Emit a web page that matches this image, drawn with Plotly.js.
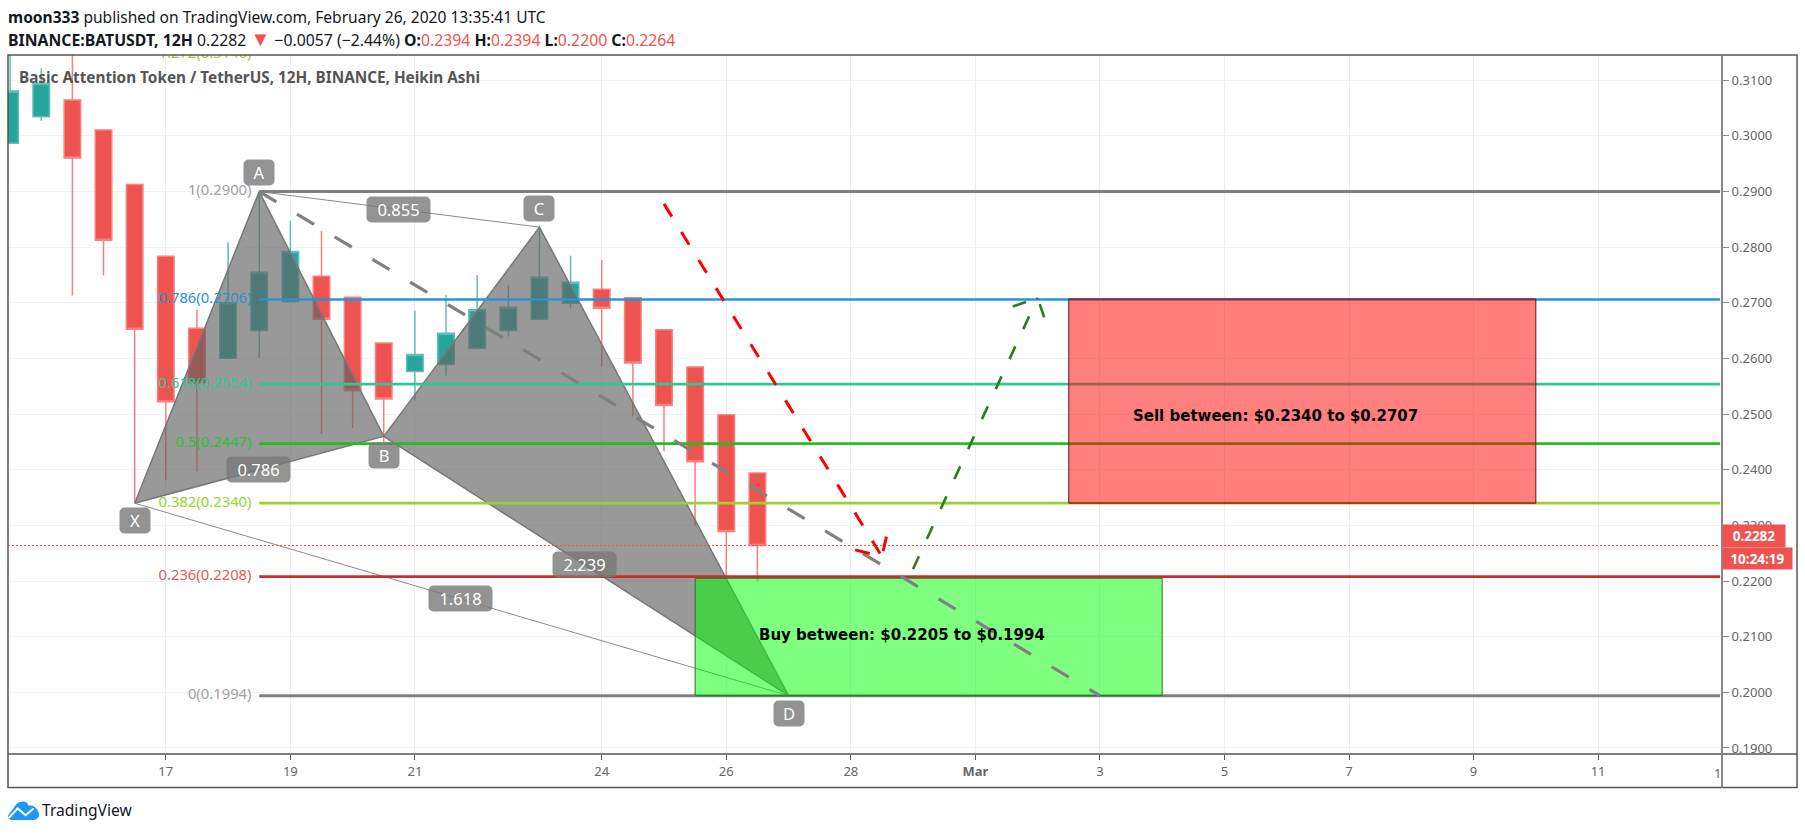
<!DOCTYPE html>
<html>
<head>
<meta charset="utf-8">
<script src="https://cdn.plot.ly/plotly-3.0.1.min.js"></script>
<style>html,body{margin:0;padding:0;background:#fff;overflow:hidden}#chart{width:1805px;height:834px}</style>
</head>
<body>
<div id="chart"></div>
<script>
// ---------- candles (Heikin Ashi, 12H) ----------
const dates = ['2020-02-14 12:00','2020-02-15 00:00','2020-02-15 12:00','2020-02-16 00:00','2020-02-16 12:00','2020-02-17 00:00','2020-02-17 12:00','2020-02-18 00:00','2020-02-18 12:00','2020-02-19 00:00','2020-02-19 12:00','2020-02-20 00:00','2020-02-20 12:00','2020-02-21 00:00','2020-02-21 12:00','2020-02-22 00:00','2020-02-22 12:00','2020-02-23 00:00','2020-02-23 12:00','2020-02-24 00:00','2020-02-24 12:00','2020-02-25 00:00','2020-02-25 12:00','2020-02-26 00:00','2020-02-26 12:00'];
const opens  = [.29868,.30346,.30646,.30107,.29125,.27838,.26545,.26006,.26502,.27023,.27479,.27102,.26276,.25766,.25891,.26186,.26502,.26707,.26994,.27246,.27090,.26515,.25845,.24988,.2394];
const highs  = [.31700,.31216,.31800,.30107,.29125,.27838,.26874,.28090,.29000,.28473,.28293,.27102,.26276,.26856,.27143,.27502,.27323,.28360,.27844,.27772,.27090,.26515,.25845,.24988,.2394];
const lows   = [.29868,.30274,.27131,.27490,.23412,.23807,.23969,.25990,.26006,.27000,.24641,.24749,.24480,.25245,.25694,.26168,.26394,.26707,.26904,.25855,.24957,.24333,.23000,.22060,.2200];
const closes = [.30808,.30946,.29604,.28126,.26527,.25221,.25562,.27000,.27551,.27921,.26707,.25424,.25270,.26071,.26455,.26874,.26922,.27461,.27371,.26904,.25917,.25155,.24144,.22891,.2264];

// ---------- XABCD harmonic pattern ----------
const patternDates = {X:'2020-02-16 12:00',A:'2020-02-18 12:00',B:'2020-02-20 12:00',C:'2020-02-23 00:00',D:'2020-02-27 00:00'};
const patternVals  = {X:.2340,A:.2900,B:.2460,C:.2836,D:.1994};
const pointLabels  = ['A','B','C','D','X','0.855','0.786','2.239','1.618'];
const pointLabelX  = ['2020-02-18 12:00','2020-02-20 12:00','2020-02-23 00:00','2020-02-27 00:00','2020-02-16 12:00','2020-02-20 17:30','2020-02-18 11:45','2020-02-23 17:30','2020-02-21 17:45'];
const pointLabelY  = [.2934,.24257,.28688,.19617,.23084,.28683,.24012,.22293,.21682];

// ---------- Fibonacci levels ----------
const fibRatios = ['1.272','1','0.786','0.618','0.5','0.382','0.236','0'];
const fibValues = [.3146,.2900,.2706,.2554,.2447,.2340,.2208,.1994];
const fibTexts  = ['1.272(0.3146)','1(0.2900)','0.786(0.2706)','0.618(0.2554)','0.5(0.2447)','0.382(0.2340)','0.236(0.2208)','0(0.1994)'];
const fibLine   = ['#9acd32','#808080','#2a93d0','#2fc796','#20c020','#9bd22c','#cf2a2a','#808080'];
const fibWidth  = [3,3,2.7,2.7,2.7,2.7,2.7,3];
const fibLabel  = ['#9acd32','#a0a0a0','#2a93d0','#2fc796','#30c030','#9bd22c','#e25a5a','#a0a0a0'];
const fibEnd    = '2020-03-12 23:00';

// ---------- projections ----------
const grayDashX = ['2020-02-18 12:00','2020-03-03 00:00'];
const grayDashY = [.2900,.1994];
const redDashX  = ['2020-02-25 00:00','2020-02-28 12:00'];
const redDashY  = [.28778,.22442];
const redWingX  = ['2020-02-28 01:40','2020-02-28 12:00','2020-02-28 14:10'];
const redWingY  = [.2256,.22442,.2289];
const greenDashX= ['2020-02-29 00:00','2020-03-02 00:00'];
const greenDashY= [.22216,.2709];
const greenWingX= ['2020-03-01 14:25','2020-03-02 00:00','2020-03-02 03:10'];
const greenWingY= [.26933,.2709,.26646];

// ---------- zones ----------
const sellZoneX = ['2020-03-02 12:00','2020-03-10 00:00'];
const sellZoneY = [.2340,.2707];
const buyZoneX  = ['2020-02-25 12:00','2020-03-04 00:00'];
const buyZoneY  = [.1994,.2205];
const sellText  = 'Sell between: $0.2340 to $0.2707';
const buyText   = 'Buy between: $0.2205 to $0.1994';

// ---------- axes ----------
const xTickVals = ['2020-02-17','2020-02-19','2020-02-21','2020-02-24','2020-02-26','2020-02-28','2020-03-01','2020-03-03','2020-03-05','2020-03-07','2020-03-09','2020-03-11'];
const xTickText = ['17','19','21','24','26','28','<b>Mar</b>','3','5','7','9','11'];
const yTickVals = [.19,.20,.21,.22,.23,.24,.25,.26,.27,.28,.29,.30,.31];

// ---------- texts ----------
const red = '#ef5350';
const headerLine1 = '<b>moon333</b> published on TradingView.com, February 26, 2020 13:35:41 UTC';
const headerLine2 = '<b>BINANCE:BATUSDT, 12H</b> 0.2282 <span style="color:'+red+';font-size:20px">▼</span> −0.0057 (−2.44%) <b>O:</b><span style="color:'+red+'">0.2394</span> <b>H:</b><span style="color:'+red+'">0.2394</span> <b>L:</b><span style="color:'+red+'">0.2200</span> <b>C:</b><span style="color:'+red+'">0.2264</span>';
const chartTitle  = '<b>Basic Attention Token / TetherUS, 12H, BINANCE, Heikin Ashi</b>';

// ---------- geometry of the frame (pixels) ----------
const L=8.4,T=55,R=1721.7,B=754.3,W=R-L,H=B-T;
const px=v=>(v-L)/W, py=v=>(B-v)/H;
const font='"Noto Sans",sans-serif';

const line=(x,y,color,width,dash)=>({type:'scatter',mode:'lines',x,y,line:{color,width,dash:dash||'solid'},hoverinfo:'skip',showlegend:false});
const poly=(x,y,fill,lc,lw)=>({type:'scatter',mode:'lines',x,y,fill:'toself',fillcolor:fill,line:{color:lc,width:lw},hoverinfo:'skip',showlegend:false});
const P=patternDates,V=patternVals;

const traces=[
 {type:'candlestick',x:dates,open:opens,high:highs,low:lows,close:closes,whiskerwidth:0,showlegend:false,hoverinfo:'skip',
  increasing:{line:{color:'#62bdb4',width:1.5},fillcolor:'#26a69a'},
  decreasing:{line:{color:'#f6807d',width:1.5},fillcolor:'#ef5350'}},
 poly([P.X,P.A,P.B,P.X],[V.X,V.A,V.B,V.X],'rgba(98,98,98,0.65)','#777777',1.5),
 poly([P.B,P.C,P.D,P.B],[V.B,V.C,V.D,V.B],'rgba(98,98,98,0.65)','#777777',1.5),
 line([P.A,P.C],[V.A,V.C],'#8a8a8a',1),
 line([P.X,P.D],[V.X,V.D],'#8a8a8a',1),
 line(['2020-02-14 11:11',fibEnd],[closes[24],closes[24]],red,1,'2px,2px')
];
fibValues.slice(1).forEach((v,i)=>traces.push(line([P.A,fibEnd],[v,v],fibLine[i+1],fibWidth[i+1])));
const zone=(x,y,fill,lc)=>poly([x[0],x[1],x[1],x[0],x[0]],[y[0],y[0],y[1],y[1],y[0]],fill,lc,1);
traces.push(
 zone(buyZoneX,buyZoneY,'rgba(0,255,0,0.5)','#2a6f2a'),
 zone(sellZoneX,sellZoneY,'rgba(255,0,0,0.5)','#6e1010'),
 line(grayDashX,grayDashY,'#808080',3.2,'20px,24px'),
 line(redDashX,redDashY,'#ff0000',3,'15px,18px'),
 line(redWingX,redWingY,'#ff0000',3,'15px,18px'),
 line(greenDashX,greenDashY,'#2f7a1c',2.6,'14px,19px'),
 line(greenWingX,greenWingY,'#2f7a1c',2.6,'14px,19px'),
 {type:'scatter',mode:'text',x:fibValues.map(()=>P.A),y:fibValues,text:fibTexts.map(t=>t+'\u00A0\u00A0'),textposition:'middle left',cliponaxis:true,
  marker:{size:6},textfont:{family:font,size:14.8,color:fibLabel},hoverinfo:'skip',showlegend:false}
);

const plain=(text,x,y,size,color,anchor)=>({text,xref:'paper',yref:'paper',x:px(x),y:py(y),xanchor:anchor||'left',yanchor:'middle',showarrow:false,align:'left',font:{family:font,size,color}});
const pill=(t,i)=>{const wide=t.length>1;return {text:t,xref:'x',yref:'y',x:pointLabelX[i],y:pointLabelY[i],xanchor:'center',yanchor:'middle',showarrow:false,
   width:wide?63:30,height:25,bgcolor:'rgba(120,120,120,0.8)',borderpad:0,font:{family:font,size:16.5,color:'#ffffff'}}};
const tag=(text,x0,x1,y0,y1)=>({text:'<b>'+text+'</b>',xref:'paper',yref:'paper',x:px(x0),y:py((y0+y1)/2),xanchor:'left',yanchor:'middle',showarrow:false,
   width:x1-x0,height:y1-y0,bgcolor:red,borderpad:0,font:{family:font,size:13.5,color:'#fff'}});

const annotations=[
 plain(headerLine1,6,16.7,15.55,'#131722'),
 plain(headerLine2,6,38.3,15.8,'#131722'),
 plain(chartTitle,17,76.7,15.3,'#555555'),
 plain('1',1717,773,13,'#666666','center'),
 plain('TradingView',40,810.7,15.6,'#131722'),
 ...pointLabels.map(pill),
 {text:'<b>'+sellText+'</b>',xref:'x',yref:'y',x:'2020-03-05 19:40',y:.24975,showarrow:false,xanchor:'center',yanchor:'middle',font:{family:'"DejaVu Sans",sans-serif',size:15,color:'#000'}},
 {text:'<b>'+buyText+'</b>',xref:'x',yref:'y',x:'2020-02-28 19:40',y:.21023,showarrow:false,xanchor:'center',yanchor:'middle',font:{family:'"DejaVu Sans",sans-serif',size:15,color:'#000'}},
 tag('0.2282',1722,1784,525,547),
 tag('10:24:19',1722,1791,548,569)
];

const logo='data:image/svg+xml;utf8,'+encodeURIComponent('<svg xmlns="http://www.w3.org/2000/svg" viewBox="0 0 32 20"><path fill="#2196f3" d="M0 16 L7 6 Q10 1 14 1 Q19 0 21 5 Q27 4 30 10 Q33 15 30 18 Q28 20 25 20 L5 20 Q1 20 0 16Z"/><path fill="none" stroke="#fff" stroke-width="2" d="M1 18 L10 8 L18 15 L26 8"/></svg>');

const layout={
 width:1805,height:834,paper_bgcolor:'#fff',plot_bgcolor:'#fff',showlegend:false,
 margin:{l:L,r:1805-R,t:T,b:834-B,pad:0},boxgap:0.47,boxgroupgap:0,
 xaxis:{type:'date',range:['2020-02-14 11:11','2020-03-12 23:45'],rangeslider:{visible:false},tickmode:'array',tickvals:xTickVals,ticktext:xTickText,
   showgrid:true,gridcolor:'#e8f0f6',gridwidth:1,zeroline:false,ticks:'outside',ticklen:5,tickcolor:'#555',showline:false,
   tickfont:{family:font,size:13,color:'#666'},automargin:false},
 yaxis:{side:'right',range:[.18892,.31454],tickmode:'array',tickvals:yTickVals,tickformat:'.4f',
   showgrid:true,gridcolor:'#eef3f7',gridwidth:1,zeroline:false,ticks:'outside',ticklen:6,tickcolor:'#888',showline:false,
   tickfont:{family:font,size:13,color:'#666'},automargin:false},
 annotations,
 images:[{source:logo,xref:'paper',yref:'paper',x:px(8),y:py(801),sizex:32/W,sizey:19.5/H,xanchor:'left',yanchor:'top',sizing:'stretch',layer:'above'}],
 shapes:[
  {type:'rect',xref:'paper',yref:'paper',x0:0,x1:px(1796.7),y0:py(787.7),y1:1,line:{color:'#555555',width:1.5},layer:'above'},
  {type:'line',xref:'paper',yref:'paper',x0:0,x1:px(1796.7),y0:0,y1:0,line:{color:'#555555',width:1.5},layer:'above'},
  {type:'line',xref:'paper',yref:'paper',x0:1,x1:1,y0:py(787.7),y1:1,line:{color:'#888888',width:2},layer:'above'}
 ]
};

const roundPills=()=>document.querySelectorAll('.annotation-text-g').forEach(g=>{
  const t=g.querySelector('text'), r=g.querySelector('rect.bg');
  if(!r||!t) return;
  if(pointLabels.includes(t.textContent.trim())) {r.setAttribute('rx',5);r.setAttribute('ry',5);}
});
Plotly.newPlot('chart',traces,layout,{displayModeBar:false,staticPlot:true}).then(gd=>{roundPills();gd.on('plotly_afterplot',roundPills);});
</script>
</body>
</html>
